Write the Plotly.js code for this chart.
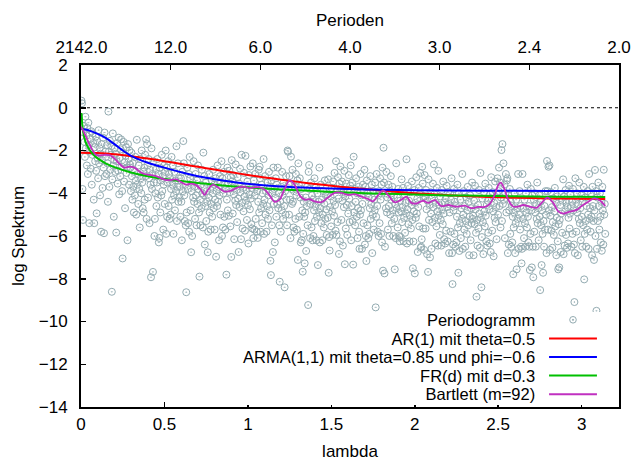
<!DOCTYPE html>
<html>
<head>
<meta charset="utf-8">
<script src="https://cdn.plot.ly/plotly-3.0.1.min.js"></script>
<style>html,body{margin:0;padding:0;background:#fff;}#chart{width:633px;height:461px;}</style>
</head>
<body>
<div id="chart"></div>
<script>
// ---------- data ----------
const nObs = 2142; // series length (Fourier frequencies 2*pi*j/n, j = 1..n/2)

// log periodogram values at the Fourier frequencies
const logPeriodogram = [
 0.33,0.21,-3.8,-5.25,-1.15,-0.85,-1.6,-2.3,-0.42,-1.9,
 -1.3,-2.7,-0.95,-3.1,-0.7,-1.75,-5.4,-2.05,-1.45,-2.85,
 -1.1,-3.6,-2.2,-1.2,-1.65,-4.3,-5.4,-1.85,-2.5,-1.35,
 -2.95,-4.94,-1.55,-2.35,-3.3,-1.05,-2.6,-1.9,-4.1,-2.15,
 -5.8,-1.7,-2.45,-3.75,-1.4,-2.8,-5.87,-1.16,-3.2,-2.05,
 -2.3,-3.1,-1.75,-2.6,-4.4,-0.18,-2.05,-3.7,-1.55,-2.9,
 -2.2,-1.8,-8.61,-3.35,-1.2,-2.7,-5.1,-2.45,-1.9,-3.0,
 -2.15,-5.84,-2.5,-1.65,-3.55,-2.95,-1.4,-4.05,-2.35,-3.2,
 -1.95,-1.48,-2.75,-3.9,-7.05,-2.1,-1.6,-3.45,-2.55,-4.7,
 -2.25,-1.85,-3.05,-2.8,-6.2,-1.7,-2.4,-3.6,-2.0,-2.65,
 -2.8,-3.9,-2.1,-3.2,-4.3,-2.6,-3.7,-4.9,-3.0,-4.1,
 -2.3,-3.4,-5.0,-1.5,-3.6,-3.1,-4.5,-2.7,-3.8,-5.6,
 -2.4,-3.3,-4.0,-2.0,-3.5,-4.7,-3.0,-4.9,-2.8,-4.3,
 -2.2,-3.2,-1.48,-5.2,-1.7,-2.7,-4.2,-2.4,-3.3,-5.4,
 -2.9,-3.6,-7.93,-1.9,-3.8,-3.1,-7.68,-2.5,-3.5,-6.0,
 -5.2,-4.0,-2.9,-4.6,-3.5,-2.4,-4.2,-3.1,-6.3,-6.09,
 -2.8,-4.9,-3.4,-4.1,-2.2,-3.9,-3.2,-5.7,-3.6,-2.7,
 -4.5,-3.0,-2.0,-5.9,-2.8,-5.1,-3.5,-2.5,-4.6,-3.1,
 -5.2,-3.3,-5.0,-3.8,-2.3,-4.3,-3.6,-2.7,-5.9,-4.1,
 -3.0,-4.8,-3.4,-3.9,-1.8,-5.3,-3.7,-2.6,-4.4,-3.3,
 -4.2,-3.7,-5.1,-3.3,-4.4,-6.2,-3.0,-3.9,-1.56,-2.6,
 -4.1,-5.3,-3.6,-5.5,-8.63,-4.9,-2.8,-3.8,-5.4,-3.1,
 -5.8,-2.3,-3.3,-4.8,-6.76,-3.9,-6.0,-3.5,-4.2,-2.5,
 -4.4,-3.7,-5.2,-3.1,-4.1,-5.5,-3.4,-4.5,-2.7,-3.8,
 -4.9,-7.9,-4.3,-5.5,-3.6,-4.7,-2.9,-4.0,-5.6,-2.1,
 -4.1,-3.2,-6.4,-4.6,-3.5,-5.3,-3.9,-4.4,-6.76,-5.8,
 -4.2,-3.1,-4.9,-3.8,-5.7,-4.5,-3.4,-5.1,-4.0,-2.9,
 -4.7,-3.6,-5.7,-4.3,-3.3,-6.97,-3.9,-4.6,-2.7,-4.4,
 -3.7,-6.2,-4.1,-3.2,-5.0,-3.5,-2.5,-6.0,-3.3,-5.6,
 -4.0,-3.0,-5.1,-3.6,-5.7,-3.8,-7.81,-4.3,-2.8,-4.8,
 -3.55,-5.05,-2.95,-3.95,-5.55,-3.25,-6.98,-2.45,-3.45,-4.95,
 -3.15,-4.05,-6.15,-3.65,-4.35,-2.65,-4.55,-3.85,-5.35,-3.25,
 -4.25,-6.75,-3.55,-4.65,-2.85,-3.95,-6.15,-2.2,-4.45,-5.65,
 -3.75,-4.85,-3.05,-4.15,-5.75,-2.25,-4.35,-3.85,-5.25,-3.45,
 -4.55,-6.35,-3.15,-4.05,-4.75,-2.75,-4.25,-5.45,-3.75,-5.65,
 -2.6,-6.1,-3.4,-5.7,-4.1,-3.1,-5.2,-3.7,-5.8,-3.9,
 -6.09,-4.4,-2.9,-4.9,-2.76,-3.3,-5.8,-4.7,-3.6,-5.4,
 -4.0,-4.5,-2.4,-5.9,-4.3,-3.2,-5.0,-3.9,-5.8,-4.6,
 -3.5,-5.2,-4.1,-3.0,-4.8,-3.7,-7.16,-7.83,-3.4,-5.5,
 -4.0,-6.75,-2.8,-4.5,-3.8,-6.3,-4.2,-3.3,-5.1,-3.6,
 -4.5,-2.8,-4.7,-4.0,-5.5,-8.14,-4.4,-5.8,-3.7,-4.8,
 -3.0,-4.1,-5.2,-3.5,-4.6,-8.4,-3.9,-5.0,-3.2,-4.3,
 -5.5,-2.0,-2.06,-3.6,-5.0,-3.2,-4.3,-6.1,-2.29,-3.8,
 -4.5,-2.9,-4.4,-5.6,-3.9,-5.8,-3.7,-5.2,-3.1,-4.1,
 -5.7,-3.4,-7.12,-2.6,-3.6,-5.1,-3.3,-4.2,-6.3,-3.8,
 -6.2,-4.8,-7.67,-5.9,-4.4,-5.1,-7.28,-4.9,-4.2,-6.7,
 -4.6,-3.7,-5.5,-9.23,-3.0,-2.68,-3.8,-6.1,-4.5,-3.5,
 -5.6,-4.1,-6.2,-4.3,-6.0,-4.8,-3.3,-5.3,-4.6,-3.7,
 -6.2,-5.1,-4.0,-7.36,-4.4,-4.9,-2.8,-6.3,-4.7,-3.6,
 -5.4,-4.3,-6.2,-5.0,-3.9,-5.6,-4.5,-3.4,-5.2,-4.1,
 -4.75,-5.95,-4.05,-5.15,-3.35,-7.72,-6.05,-6.68,-4.65,-4.15,
 -5.55,-3.75,-4.85,-5.95,-3.45,-4.35,-5.05,-3.05,-4.55,-5.75,
 -2.5,-5.95,-3.85,-5.35,-3.25,-4.25,-6.84,-3.55,-6.25,-2.75,
 -3.75,-5.25,-3.45,-4.35,-6.45,-3.95,-4.65,-2.95,-7.32,-4.15,
 -5.65,-3.55,-4.55,-5.95,-3.85,-4.95,-3.15,-4.25,-5.35,-3.65,
 -2.7,-6.2,-4.6,-3.5,-5.3,-7.34,-2.29,-4.9,-3.8,-5.5,
 -4.4,-3.3,-5.1,-4.0,-6.1,-4.7,-3.7,-5.8,-6.6,-5.0,
 -3.1,-4.8,-4.1,-6.6,-4.5,-3.6,-5.4,-3.9,-2.9,-6.4,
 -3.7,-6.0,-7.17,-3.4,-5.5,-4.0,-6.1,-4.2,-5.9,-4.7,
 -3.2,-5.2,-4.5,-3.6,-6.8,-5.0,-3.9,-5.7,-4.3,-4.8,
 -3.5,-9.34,-5.1,-3.1,-4.6,-5.8,-4.1,-6.0,-3.9,-5.4,
 -3.3,-4.3,-5.9,-3.6,-6.3,-2.8,-7.62,-1.87,-3.5,-7.75,
 -6.5,-4.0,-4.7,-3.0,-4.9,-4.2,-5.7,-3.6,-4.6,-6.0,
 -3.9,-5.0,-3.2,-4.3,-5.4,-3.7,-4.8,-6.0,-4.1,-5.2,
 -7.56,-4.5,-6.1,-2.6,-4.7,-4.2,-5.6,-3.8,-4.9,-6.0,
 -6.25,-4.35,-6.05,-4.85,-3.35,-5.35,-4.65,-3.75,-6.25,-5.15,
 -4.05,-5.85,-4.45,-4.95,-2.41,-6.35,-4.75,-3.65,-5.45,-4.35,
 -6.25,-5.05,-3.95,-5.65,-4.55,-3.45,-5.25,-7.51,-6.26,-4.85,
 -3.85,-7.75,-4.45,-5.15,-3.25,-4.95,-4.25,-6.75,-4.65,-3.75,
 -5.55,-4.05,-3.05,-6.55,-6.5,-6.15,-2.76,-3.55,-5.65,-4.15,
 -6.65,-3.15,-4.15,-5.65,-3.85,-4.75,-6.85,-4.35,-7.68,-3.35,
 -5.25,-4.55,-7.0,-3.95,-4.95,-6.6,-4.25,-5.35,-3.55,-4.65,
 -2.65,-4.05,-5.15,-6.35,-4.45,-5.55,-3.75,-4.85,-6.45,-2.95,
 -5.05,-4.55,-5.95,-4.15,-5.25,-6.45,-3.85,-4.75,-5.45,-3.45,
 -4.95,-6.15,-4.45,-6.35,-4.25,-5.75,-3.65,-4.65,-6.25,-3.95,
 -4.5,-6.8,-4.9,-4.0,-5.8,-4.3,-3.3,-6.8,-8.25,-6.4,
 -4.8,-3.8,-5.9,-4.4,-6.5,-4.6,-6.3,-5.1,-3.6,-5.6,
 -7.72,-4.0,-6.7,-5.4,-4.3,-6.1,-4.7,-5.2,-3.1,-6.6,
 -5.0,-3.9,-5.7,-4.6,-6.5,-5.3,-4.2,-5.9,-4.8,-3.7,
 -5.5,-4.4,-6.9,-5.1,-4.1,-6.2,-4.7,-5.4,-3.5,-5.2,
 -5.05,-6.9,-4.35,-5.45,-3.65,-4.75,-5.85,-8.84,-5.25,-6.45,
 -4.55,-5.65,-3.85,-4.95,-6.55,-3.05,-5.15,-8.4,-6.05,-4.25,
 -5.35,-6.85,-3.95,-4.85,-5.55,-3.55,-5.05,-6.25,-4.55,-6.45,
 -4.35,-5.85,-3.75,-4.75,-6.35,-4.05,-6.75,-3.25,-4.25,-5.75,
 -3.95,-4.85,-6.95,-4.45,-5.15,-3.45,-5.35,-4.65,-6.15,-4.05,
 -3.3,-5.0,-3.9,-2.8,-4.6,-3.5,-5.6,-4.2,-1.98,-5.3,
 -1.70,-4.5,-2.6,-4.3,-3.6,-6.1,-4.0,-3.1,-4.9,-3.4,
 -3.3,-6.8,-4.1,-6.4,-4.8,-3.8,-5.9,-4.4,-6.5,-4.6,
 -6.3,-5.1,-7.79,-5.6,-4.9,-4.0,-6.8,-5.4,-4.3,-7.56,
 -4.7,-5.2,-3.1,-6.6,-5.0,-3.9,-5.7,-4.6,-6.5,-7.28,
 -6.6,-3.1,-5.2,-4.7,-6.1,-4.3,-5.4,-6.5,-4.0,-4.9,
 -5.6,-3.6,-5.1,-6.3,-4.6,-6.5,-7.59,-5.9,-3.8,-4.8,
 -7.47,-4.1,-6.5,-7.93,-4.3,-5.8,-4.0,-4.9,-6.5,-4.5,
 -5.2,-3.5,-5.4,-4.7,-6.2,-4.1,-5.1,-8.53,-4.4,-5.5,
 -7.36,-4.8,-5.9,-7.72,-5.3,-6.5,-4.6,-5.7,-3.9,-5.0,
 -6.8,-2.49,-3.9,-5.7,-2.76,-4.8,-2.7,-6.65,-5.05,-3.95,
 -5.75,-4.65,-6.55,-5.35,-4.25,-5.95,-4.85,-3.75,-5.55,-4.45,
 -6.9,-5.15,-4.15,-6.25,-7.56,-5.45,-7.47,-5.25,-4.55,-6.75,
 -4.95,-4.05,-5.85,-4.35,-3.35,-6.85,-4.15,-6.45,-4.85,-3.85,
 -5.95,-4.45,-6.55,-4.65,-6.35,-5.15,-3.65,-5.65,-4.95,-4.05,
 -4.6,-6.5,-4.4,-5.9,-3.8,-4.8,-6.4,-9.09,-6.8,-3.3,
 -4.3,-5.8,-4.0,-4.9,-6.9,-4.5,-5.2,-3.5,-5.4,-4.7,
 -6.2,-4.1,-5.1,-6.5,-4.4,-5.5,-3.7,-8.03,-5.9,-4.2,
 -5.3,-6.5,-4.6,-5.7,-3.9,-5.0,-6.6,-3.1,-5.2,-4.7,
 -5.8,-4.0,-5.1,-6.9,-3.7,-4.6,-5.3,-7.12,-4.8,-2.91,
 -6.0,-3.9,-9.5,-6.6,-4.2,-5.3,-3.5,-4.6,-5.7,-4.0,
 -5.1,-6.3,-4.4,-6.69,-3.7,-4.8,-6.4,-2.9,-5.0,-4.5,
 -5.9
];

// AR(1) mit theta=0.5
const lamAR = [0,0.1,0.2,0.3,0.4,0.5,0.6,0.7,0.8,0.9,1.0,1.1,1.2,1.3,1.4,1.5,1.6,1.7,1.8,1.9,2.0,2.2,2.4,2.6,2.8,3.0,3.1416];
const specAR = [-2.10,-2.12,-2.176,-2.264,-2.374,-2.498,-2.63,-2.763,-2.894,-3.021,-3.143,-3.258,-3.367,-3.468,-3.563,-3.651,-3.732,-3.807,-3.876,-3.939,-3.997,-4.095,-4.16,-4.21,-4.24,-4.26,-4.265];

// ARMA(1,1) mit theta=0.85 und phi=-0.6
const lamARMA = [0,0.05,0.1,0.15,0.2,0.25,0.3,0.35,0.4,0.5,0.6,0.7,0.8,0.9,1.0,1.2,1.4,1.6,1.8,2.0,2.4,2.8,3.1416];
const specARMA = [-0.97,-1.07,-1.22,-1.42,-1.7,-2.0,-2.25,-2.43,-2.57,-2.8,-3.02,-3.2,-3.34,-3.46,-3.56,-3.68,-3.75,-3.8,-3.84,-3.86,-3.88,-3.89,-3.89];

// FR(d) mit d=0.3
const lamFR = [0.00293,0.01,0.02,0.03,0.05,0.075,0.1,0.15,0.2,0.3,0.4,0.5,0.6,0.7,0.8,0.9,1.0,1.2,1.4,1.6,1.8,2.0,2.2,2.4,2.6,2.8,3.0,3.1416];
const specFR = [-0.25,-0.99,-1.40,-1.65,-1.95,-2.20,-2.37,-2.61,-2.78,-3.03,-3.20,-3.33,-3.43,-3.52,-3.60,-3.67,-3.725,-3.82,-3.90,-3.97,-4.02,-4.06,-4.10,-4.12,-4.14,-4.16,-4.16,-4.17];

// Bartlett (m=92)
const lamBart = [0,0.015,0.03,0.05,0.07,0.09,0.11,0.14,0.17,0.19,0.21,0.23,0.26,0.29,0.32,0.35,0.38,0.41,0.45,0.48,0.51,0.54,0.57,0.60,0.63,0.66,0.69,0.72,0.74,0.76,0.79,0.82,0.86,0.90,0.94,0.98,1.01,1.04,1.07,1.10,1.13,1.16,1.19,1.22,1.25,1.28,1.31,1.34,1.37,1.40,1.44,1.48,1.52,1.56,1.60,1.64,1.68,1.72,1.75,1.78,1.81,1.84,1.88,1.92,1.95,1.98,2.01,2.05,2.08,2.12,2.16,2.20,2.25,2.30,2.34,2.38,2.42,2.45,2.48,2.50,2.515,2.535,2.56,2.59,2.62,2.65,2.69,2.73,2.76,2.795,2.83,2.86,2.89,2.93,2.97,3.00,3.04,3.075,3.11,3.1416];
const specBart = [-0.89,-1.1,-1.35,-1.7,-2.0,-2.2,-2.24,-2.2,-2.22,-2.3,-2.45,-2.62,-2.8,-2.75,-2.8,-2.98,-3.1,-3.14,-3.2,-3.3,-3.38,-3.38,-3.35,-3.48,-3.6,-3.55,-3.62,-3.85,-4.08,-3.85,-3.6,-3.72,-3.92,-3.88,-3.72,-3.7,-3.76,-3.72,-3.72,-3.82,-4.1,-4.4,-4.3,-3.8,-3.4,-3.6,-4.1,-4.3,-4.28,-4.38,-4.42,-4.2,-3.98,-3.98,-4.08,-4.04,-4.16,-4.26,-4.38,-4.1,-3.87,-4.08,-4.42,-4.3,-4.16,-4.45,-4.48,-4.35,-4.45,-4.32,-4.6,-4.55,-4.63,-4.58,-4.7,-4.64,-4.64,-4.5,-4.05,-3.62,-3.5,-3.75,-4.3,-4.62,-4.62,-4.55,-4.63,-4.68,-4.45,-4.2,-4.45,-4.85,-4.95,-4.86,-4.78,-4.6,-4.4,-4.24,-4.34,-4.6];

// top axis: periods
const periods = [2142, 12, 6, 4, 3, 2.4, 2];
const legendNames = ['Periodogramm','AR(1) mit theta=0.5','ARMA(1,1) mit theta=0.85 und phi=\u22120.6','FR(d) mit d=0.3','Bartlett (m=92)'];

// ---------- styles ----------
const colPts = '#93abb1';
const colAR = '#ff0000', colARMA = '#0000ff', colFR = '#00c000', colBart = '#c030c0';
const FONT = '"Liberation Sans", Arial, sans-serif';
const FS = 17;

const lamPer = logPeriodogram.map((_, i) => 2 * Math.PI * (i + 1) / nObs);

const traces = [
  {x: lamPer, y: logPeriodogram, type: 'scatter', mode: 'markers',
   marker: {symbol: 'circle-open-dot', size: 7, color: colPts, line: {width: 1, color: colPts}}, hoverinfo: 'skip'},
  {x: lamAR, y: specAR, type: 'scatter', mode: 'lines', line: {color: colAR, width: 2, shape: 'spline', smoothing: 0.8}},
  {x: lamARMA, y: specARMA, type: 'scatter', mode: 'lines', line: {color: colARMA, width: 2, shape: 'spline', smoothing: 0.6}},
  {x: lamFR, y: specFR, type: 'scatter', mode: 'lines', line: {color: colFR, width: 2, shape: 'spline', smoothing: 0.6}},
  {x: lamBart, y: specBart, type: 'scatter', mode: 'lines', line: {color: colBart, width: 1.8, shape: 'spline', smoothing: 0.9}},
  // empty carrier so the top (period) axis is drawn
  {x: [Math.PI], y: [null], xaxis: 'x2', yaxis: 'y', type: 'scatter', mode: 'markers', hoverinfo: 'skip'}
];

// legend geometry (paper coordinates)
const legTextX = 0.8476, legLineX0 = 0.870, legLineX1 = 0.959, legSymX = 0.9145;
const legPitch = 18.6 / 342; // row pitch in paper units
const legMid = 0.1462;       // middle row (ARMA)
const legRows = [2, 1, 0, -1, -2].map(k => legMid + k * legPitch);
const legColors = [null, colAR, colARMA, colFR, colBart];

const shapes = [
  {type: 'line', xref: 'paper', x0: 0, x1: 1, yref: 'y', y0: 0, y1: 0, layer: 'below',
   line: {color: 'black', width: 1, dash: 'dot'}},
  {type: 'rect', xref: 'paper', yref: 'paper', x0: 0.2435, x1: 0.994, y0: 0.006, y1: 0.2778,
   fillcolor: 'white', line: {width: 0}, layer: 'above'}
];
for (let i = 1; i < legRows.length; i++) {
  shapes.push({type: 'line', xref: 'paper', yref: 'paper', x0: legLineX0, x1: legLineX1,
    y0: legRows[i], y1: legRows[i], line: {color: legColors[i], width: 2}, layer: 'above'});
}
shapes.push({type: 'circle', xref: 'paper', yref: 'paper', xsizemode: 'pixel', ysizemode: 'pixel',
  xanchor: legSymX, yanchor: legRows[0], x0: -3.3, x1: 3.3, y0: -3.3, y1: 3.3,
  line: {color: colPts, width: 1}, fillcolor: 'rgba(0,0,0,0)', layer: 'above'});
shapes.push({type: 'circle', xref: 'paper', yref: 'paper', xsizemode: 'pixel', ysizemode: 'pixel',
  xanchor: legSymX, yanchor: legRows[0], x0: -0.6, x1: 0.6, y0: -0.6, y1: 0.6,
  line: {color: colPts, width: 1}, fillcolor: colPts, layer: 'above'});

// one right-aligned text block for the legend labels (line pitch 1.3 x 14.3px = 18.6px)
const legendText = legendNames.map(t => '<span style="font-size:16.5px">' + t + '</span>').join('<br>');
const annotations = [{
  text: legendText, xref: 'paper', yref: 'paper', x: legTextX, y: legMid,
  xanchor: 'right', yanchor: 'middle', align: 'right', showarrow: false,
  font: {family: FONT, size: 14.3, color: 'black'}
}];

const axisCommon = {
  showgrid: false, zeroline: false, ticks: 'inside', ticklen: 5, tickwidth: 1.5, tickcolor: 'black',
  tickfont: {family: FONT, size: FS, color: 'black'}, automargin: false
};

const layout = {
  width: 633, height: 461,
  margin: {l: 81, r: 14, t: 65, b: 54, pad: 0},
  paper_bgcolor: 'white', plot_bgcolor: 'white',
  font: {family: FONT, size: FS, color: 'black'},
  showlegend: false,
  xaxis: Object.assign({}, axisCommon, {
    range: [0, 3.224], tickvals: [0, 0.5, 1, 1.5, 2, 2.5, 3], ticktext: ['0', '0.5', '1', '1.5', '2', '2.5', '3'],
    showline: true, linecolor: 'black', linewidth: 2, mirror: true, ticklabelstandoff: 1,
    title: {text: 'lambda', font: {family: FONT, size: FS}, standoff: 12}
  }),
  xaxis2: Object.assign({}, axisCommon, {
    overlaying: 'x', side: 'top', anchor: 'y', range: [0, Math.PI],
    tickvals: periods.map(p => 2 * Math.PI / p), ticktext: periods.map(p => p.toFixed(1)),
    showline: false, ticklabelstandoff: 8,
    title: {text: 'Perioden', font: {family: FONT, size: FS}, standoff: 6}
  }),
  yaxis: Object.assign({}, axisCommon, {
    range: [-14, 2], tick0: -14, dtick: 2,
    showline: true, linecolor: 'black', linewidth: 2, mirror: true, ticklabelstandoff: 8,
    title: {text: 'log Spektrum', font: {family: FONT, size: FS}, standoff: 10}
  }),
  shapes: shapes,
  annotations: annotations
};

Plotly.newPlot('chart', traces, layout, {staticPlot: true, displayModeBar: false});
</script>
</body>
</html>
